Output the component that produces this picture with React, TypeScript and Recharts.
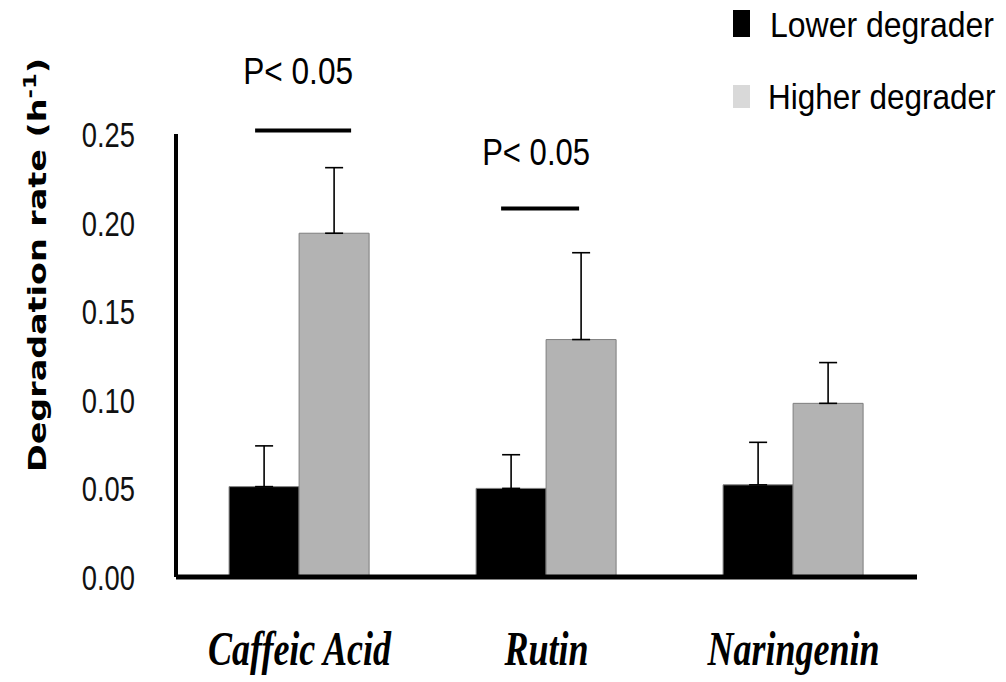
import React from 'react';
import { BarChart, Bar, XAxis, YAxis, ErrorBar, Legend, LabelList } from 'recharts';

// Degradation rate (h^-1) per compound, mean and SD for each degrader group
const categories = ['Caffeic Acid', 'Rutin', 'Naringenin'];
const lowerRate = [0.051, 0.05, 0.052];
const lowerSd = [0.023, 0.019, 0.024];
const higherRate = [0.194, 0.134, 0.098];
const higherSd = [0.037, 0.049, 0.023];
const yTicks = [0, 0.05, 0.1, 0.15, 0.2, 0.25];

// Significance annotations above each compound (empty = none)
const sigText = ['P< 0.05', 'P< 0.05', ''];
const sigLineLevel = [0.252, 0.208, null];
const sigTextLevel = [0.278, 0.2325, null];

const rows = categories.map((name, i) => ({
  name,
  lower: lowerRate[i],
  lowerErr: [0, lowerSd[i]],
  higher: higherRate[i],
  higherErr: [0, higherSd[i]],
}));

// Horizontal placement of the significance bracket relative to the higher bar's left edge
const SIG_LAYOUT = [
  { lineFrom: -44, lineTo: 52, textCenter: -1, scaleX: 0.855 },
  { lineFrom: -45, lineTo: 33, textCenter: -10, scaleX: 0.84 },
];

const LEGEND_SWATCH: Record<string, string> = { lower: '#000000', higher: '#d9d9d9' };

// Legend rows, top to bottom, keyed by series
const LEGEND_ROWS: Record<string, { boxTop: number; boxH: number; baseline: number; textX: number; scaleX: number }> = {
  lower: { boxTop: 10, boxH: 27, baseline: 37, textX: 770, scaleX: 0.914 },
  higher: { boxTop: 85, boxH: 23, baseline: 109, textX: 768, scaleX: 0.9 },
};

const SANS = "'Liberation Sans', Arial, sans-serif";
const SERIF = "'Liberation Serif', 'Times New Roman', serif";

const RateTick = (props: any) => {
  const { x, y, payload } = props;
  return (
    <text
      x={0}
      y={0}
      transform={`translate(${x},${y + 13}) scale(0.76,1)`}
      textAnchor="end"
      fontFamily={SANS}
      fontSize={36}
      fill="#111"
    >
      {Number(payload.value).toFixed(2)}
    </text>
  );
};

const CategoryTick = (props: any) => {
  const { x, y, payload } = props;
  return (
    <text
      x={0}
      y={0}
      transform={`translate(${x},${y + 88}) scale(0.75,1)`}
      textAnchor="middle"
      fontFamily={SERIF}
      fontStyle="italic"
      fontWeight="bold"
      fontSize={48}
      fill="#000"
    >
      {payload.value}
    </text>
  );
};

const renderSig = (props: any) => {
  const vb = props.viewBox ?? props;
  const { x, y, height } = vb;
  const index = props.index;
  const lvl = sigLineLevel[index];
  if (lvl == null || x == null) return null;
  const value = typeof props.value === 'number' ? props.value : higherRate[index];
  const base = y + height;
  const perUnit = height / value;
  const lineY = base - lvl * perUnit;
  const textY = base - (sigTextLevel[index] as number) * perUnit;
  const L = SIG_LAYOUT[index];
  return (
    <g key={`sig-${index}`}>
      <line x1={x + L.lineFrom} x2={x + L.lineTo} y1={lineY} y2={lineY} stroke="#000" strokeWidth={4} />
      <text
        x={0}
        y={0}
        transform={`translate(${x + L.textCenter},${textY}) scale(${L.scaleX},1)`}
        textAnchor="middle"
        fontFamily={SANS}
        fontSize={37}
        fill="#000"
      >
        {sigText[index]}
      </text>
    </g>
  );
};

const renderLegend = (props: any) => {
  const payload = props.payload || [];
  return (
    <svg width={1006} height={130} style={{ display: 'block' }}>
      {payload.map((entry: any) => {
        const r = LEGEND_ROWS[entry.dataKey];
        if (!r) return null;
        return (
          <g key={entry.dataKey}>
            <rect x={733} y={r.boxTop} width={17} height={r.boxH} fill={LEGEND_SWATCH[entry.dataKey] ?? entry.color} />
            <text
              x={0}
              y={0}
              transform={`translate(${r.textX},${r.baseline}) scale(${r.scaleX},1)`}
              fontFamily={SANS}
              fontSize={35}
              fill="#000"
            >
              {entry.value}
            </text>
          </g>
        );
      })}
    </svg>
  );
};

export default function App() {
  return (
    <div style={{ position: 'absolute', left: 0, top: 0, width: 1006, height: 682, background: '#fff' }}>
      <BarChart
        width={1006}
        height={682}
        data={rows}
        margin={{ top: 134, right: 89, left: 0, bottom: 0 }}
        barCategoryGap="21.5%"
        barGap={0}
      >
        <XAxis
          dataKey="name"
          height={105}
          interval={0}
          axisLine={{ stroke: '#000', strokeWidth: 5 }}
          tickLine={false}
          tickSize={0}
          tickMargin={0}
          tick={<CategoryTick />}
        />
        <YAxis
          width={176}
          domain={[0, 0.25]}
          ticks={yTicks}
          interval={0}
          axisLine={{ stroke: '#000', strokeWidth: 4 }}
          tickLine={false}
          tickSize={0}
          tickMargin={41}
          tick={<RateTick />}
        />
        <Legend
          layout="vertical"
          align="center"
          verticalAlign="middle"
          content={renderLegend}
          wrapperStyle={{ position: 'absolute', left: 0, top: 0, width: 1006, height: 130 }}
        />
        <Bar dataKey="lower" name="Lower degrader" fill="#000000" stroke="#7f7f7f" strokeWidth={1} isAnimationActive={false}>
          <ErrorBar dataKey="lowerErr" direction="y" width={9} stroke="#000" strokeWidth={1.6} />
        </Bar>
        <Bar dataKey="higher" name="Higher degrader" fill="#b3b3b3" stroke="#7f7f7f" strokeWidth={1} isAnimationActive={false}>
          <ErrorBar dataKey="higherErr" direction="y" width={9} stroke="#000" strokeWidth={1.6} />
          <LabelList dataKey="higher" content={renderSig} />
        </Bar>
      </BarChart>
      <svg width={80} height={682} style={{ position: 'absolute', left: 0, top: 0, pointerEvents: 'none' }}>
        <text
          x={46}
          y={265}
          transform="rotate(-90 46 265)"
          textAnchor="middle"
          textLength={414}
          lengthAdjust="spacingAndGlyphs"
          fontFamily="'DejaVu Sans', Verdana, sans-serif"
          fontWeight="bold"
          fontSize={25}
          fill="#000"
        >
          Degradation rate (h
          <tspan fontSize={17} dy={-10}>-1</tspan>
          <tspan dy={10}>)</tspan>
        </text>
      </svg>
    </div>
  );
}
